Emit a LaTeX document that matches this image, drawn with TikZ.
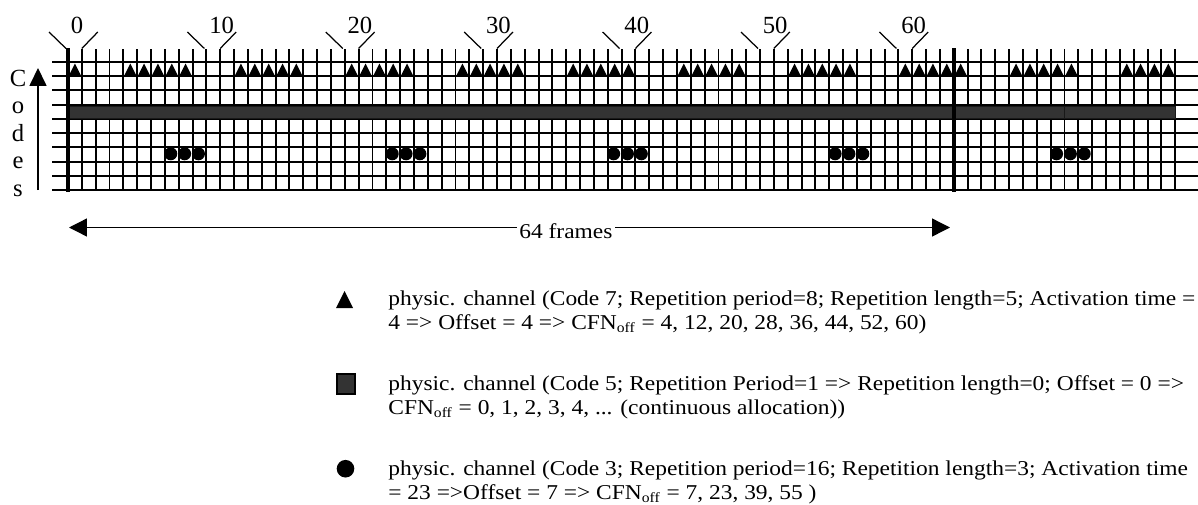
\documentclass[tikz,border=0pt]{standalone}
\usepackage{fontspec}
\setmainfont{Liberation Serif}
\newfontfamily\widefont[FakeStretch=1.11]{Liberation Serif}
\usetikzlibrary{arrows.meta}

\begin{document}
\begin{tikzpicture}[x=0.568pt,y=-0.568pt,
    gridline/.style={line width=1.1pt,black},
    frameline/.style={line width=2.4pt,black},
    tickline/.style={line width=0.7pt},
    bandbox/.style={fill=black!80,draw=black!90,line width=0.6pt},
    toplabel/.style={font=\fontsize{14}{16}\selectfont,anchor=west,inner sep=0pt},
    codeletter/.style={font=\fontsize{14}{16}\selectfont,anchor=base,inner sep=0pt},
    legendtext/.style={font=\widefont\fontsize{12}{14}\selectfont,anchor=base west,inner sep=0pt},
    longarrow/.style={line width=0.75pt,{Triangle[width=10.2pt,length=10.2pt]}-{Triangle[width=10.2pt,length=10.2pt]}},
    codesarrow/.style={line width=0.75pt,-{Triangle[width=9.7pt,length=10.2pt]}}]
  \useasboundingbox (0,0) rectangle (1198,504);

  % grid: 80 frames x 9 codes
  \foreach \j in {0,...,9}
    \draw[gridline] (52,62+\j*14.22) -- (1198,62+\j*14.22);
  \foreach \i in {0,...,80}
    \draw[gridline] (68+\i*13.84,49) -- (68+\i*13.84,191);

  % code 5, continuous
  \draw[bandbox] (68,106.5) rectangle (1064.5,118.5);
  \draw[bandbox] (1064.5,106.5) rectangle (1175.2,118.5);

  % frame 0 and frame 64
  \draw[frameline] (68,48) -- (68,191.5);
  \draw[frameline] (953.8,48) -- (953.8,191.5);

  % code 7, period 8, length 5
  \foreach \s in {-4,4,...,76}
    \foreach \k in {0,...,4}{
      \pgfmathtruncatemacro\c{\s+\k}
      \ifnum\c>-1 \ifnum\c<80
        \fill (74.9+\c*13.84-6,75.5) -- ++(12,0) -- ++(-6,-12) -- cycle;
      \fi\fi
    }

  % code 3, period 16, length 3
  \foreach \s in {7,23,39,55,71}
    \foreach \k in {0,1,2}
      \fill (73.9+\s*13.84+\k*13.84,153.8) circle (6.5);

  % frame numbers
  \foreach \n in {0,...,6}{
    \pgfmathtruncatemacro\lab{10*\n}
    \draw[tickline] (49+\lab*13.84,32) -- (66+\lab*13.84,48.5);
    \draw[tickline] (81.8+\lab*13.84,48.5) -- (97.8+\lab*13.84,32);
    \node[toplabel] (lab\lab) at (70.5+\lab*13.84,25) {\lab};
  }

  % codes axis
  \node[codeletter] (cC) at (18,86.5) {C};
  \node[codeletter] (cO) at (18,113.5) {o};
  \node[codeletter] (cD) at (18,141) {d};
  \node[codeletter] (cE) at (18,168.5) {e};
  \node[codeletter] (cS) at (18,196) {s};
  \coordinate (codesbot) at (38,190);
  \coordinate (codestop) at (38,68);
  \draw[codesarrow] (codesbot) -- (codestop);

  % 64 frames
  \coordinate (fleft) at (69,227.5);
  \coordinate (fright) at (950,227.5);
  \draw[longarrow] (fleft) -- node[pos=0.564,yshift=-1.9pt,fill=white,inner sep=1.6pt,
    font=\widefont\fontsize{12}{14}\selectfont] (ftext) {64 frames} (fright);

  % legend
  \fill (336,308) -- (353,308) -- (344.5,291) -- cycle;
  \node[legendtext] (lt1) at (388,305) {physic. channel (Code 7; Repetition period=8; Repetition length=5; Activation time =};
  \node[legendtext] (lt2) at (388,329) {4 => Offset = 4 => CFN\textsubscript{off} = 4, 12, 20, 28, 36, 44, 52, 60)};

  \draw[fill=black!80,draw=black,line width=0.6pt] (337,374) rectangle (355,394);
  \node[legendtext] (ls1) at (388,390) {physic. channel (Code 5; Repetition Period=1 => Repetition length=0; Offset = 0 =>};
  \node[legendtext] (ls2) at (388,414) {CFN\textsubscript{off} = 0, 1, 2, 3, 4, ... (continuous allocation))};

  \fill (345.5,468.7) circle (8.8);
  \node[legendtext] (lc1) at (388,475) {physic. channel (Code 3; Repetition period=16; Repetition length=3; Activation time};
  \node[legendtext] (lc2) at (388,499) {= 23 =>Offset = 7 => CFN\textsubscript{off} = 7, 23, 39, 55 )};
\end{tikzpicture}
\end{document}
